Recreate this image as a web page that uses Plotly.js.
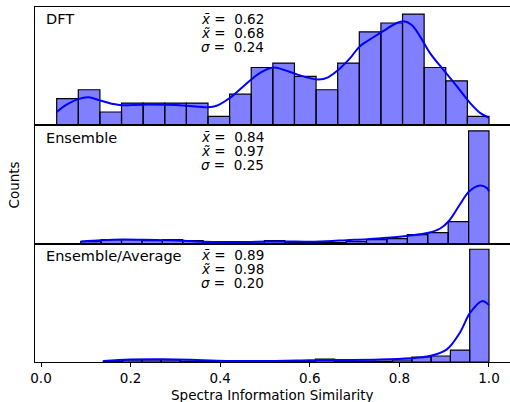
<!DOCTYPE html>
<html><head><meta charset="utf-8">
<script src="https://cdn.plot.ly/plotly-3.0.1.min.js"></script>
<style>html,body{margin:0;padding:0;background:#fff}</style>
</head><body><div id="chart" style="width:510px;height:402px"></div>
<script>
// ---- data ----
const panelNames = ["DFT", "Ensemble", "Ensemble/Average"];
const statMean = ["0.62", "0.84", "0.89"];
const statMedian = ["0.68", "0.97", "0.98"];
const statStd = ["0.24", "0.25", "0.20"];

// histogram bin ranges (data min / max) and counts, 20 bins each
const dftRange = [0.035, 1.0];
const dftCounts = [6, 8, 3, 5, 5, 5, 5, 2, 7, 13, 14, 11, 8, 14, 21, 23, 25, 13, 10, 2];
const ensRange = [0.0886, 1.0];
const ensCounts = [2, 4, 4, 3, 4, 3, 2, 2, 2, 3, 1, 1, 1, 2, 4, 5, 9, 11, 22, 113];
const avgRange = [0.139, 1.0];
const avgCounts = [1, 2, 2, 2, 1, 1, 0, 1, 0, 1, 1, 3, 1, 1, 1, 2, 5, 6, 12, 113];

// KDE curves (x, counts)
const dftKdeX = [0.035,0.057,0.083,0.106,0.132,0.161,0.18,0.228,0.277,0.325,0.373,0.392,0.422,0.452,0.489,0.519,0.541,0.567,0.593,0.619,0.641,0.664,0.690,0.712,0.742,0.772,0.794,0.809,0.827,0.846,0.868,0.898,0.928,0.958,0.980,1.0];
const dftKdeY = [3.0,4.65,5.9,6.3,5.6,4.8,4.5,4.65,4.6,4.4,4.05,4.4,6.2,8.8,11.8,13.0,12.5,11.6,10.8,10.3,10.8,12.5,15.1,17.8,19.8,21.7,23.0,23.4,22.6,20.0,16.3,12.5,8.8,5.0,2.8,1.7];
const ensKdeX = [0.0886,0.135,0.184,0.228,0.273,0.318,0.364,0.411,0.459,0.504,0.548,0.593,0.638,0.682,0.728,0.774,0.820,0.865,0.891,0.910,0.935,0.956,0.980,0.995,1.0];
const ensKdeY = [2.2,3.5,4.2,3.9,3.5,2.9,1.9,1.5,1.5,2.2,2.2,1.9,2.5,3.5,4.5,5.9,7.9,10.9,15.2,22.5,39.2,52.5,58.2,55.9,52.5];
const avgKdeX = [0.139,0.199,0.273,0.348,0.422,0.496,0.571,0.630,0.690,0.757,0.824,0.868,0.906,0.935,0.958,0.984,1.0];
const avgKdeY = [1.0,2.4,2.7,2.0,1.0,1.0,1.4,2.0,2.0,2.4,3.7,6.0,12.7,29.4,49.4,61.0,57.0];

const yMax = [26.6, 118.6, 118.6];
const xTicks = [0, 0.2, 0.4, 0.6, 0.8, 1.0];
const xTickText = ["0.0", "0.2", "0.4", "0.6", "0.8", "1.0"];

// ---- build ----
const W = 510, H = 402, ML = 35, MR = 0, MT = 7, MB = 40;
const PW = W - ML - MR, PH = H - MT - MB;
const px2x = p => (p - ML) / PW;
const py2y = p => (H - MB - p) / PH;

function binCentres(range, n) {
  const w = (range[1] - range[0]) / n;
  return {w: w, c: Array.from({length: n}, (_, i) => range[0] + w * (i + 0.5))};
}

const hists = [[dftRange, dftCounts], [ensRange, ensCounts], [avgRange, avgCounts]];
const kdes = [[dftKdeX, dftKdeY], [ensKdeX, ensKdeY], [avgKdeX, avgKdeY]];
const traces = [];
hists.forEach((h, i) => {
  const b = binCentres(h[0], h[1].length);
  const ax = i === 0 ? '' : String(i + 1);
  traces.push({type: 'bar', x: b.c, y: h[1], width: b.w, xaxis: 'x' + ax, yaxis: 'y' + ax,
    marker: {color: 'rgba(0,0,255,0.5)', line: {color: 'black', width: 1.2}}, hoverinfo: 'skip'});
  traces.push({type: 'scatter', mode: 'lines', x: kdes[i][0], y: kdes[i][1], xaxis: 'x' + ax, yaxis: 'y' + ax,
    line: {color: 'blue', width: 2, shape: 'spline', smoothing: 1}, hoverinfo: 'skip'});
});

const xr = [-0.0134, 1.0469];
function xa(anchor, bottom) {
  const o = {anchor: anchor, range: xr, showline: true, mirror: true, linecolor: 'black', linewidth: 1,
    showgrid: false, zeroline: false, ticks: '', showticklabels: false, fixedrange: true};
  if (bottom) {
    Object.assign(o, {ticks: 'outside', ticklen: 3.5, tickwidth: 1, tickcolor: 'black',
      tickvals: xTicks, ticktext: xTickText, showticklabels: true,
      tickfont: {family: 'DejaVu Sans', size: 13.5, color: 'black'}});
  }
  return o;
}
function ya(anchor, dom, mx) {
  return {anchor: anchor, domain: dom, range: [0, mx], showline: true, linecolor: 'black', linewidth: 1,
    showgrid: false, zeroline: false, ticks: '', showticklabels: false, fixedrange: true};
}

const annotations = [];
const fnt = {family: 'DejaVu Sans', size: 13.5, color: 'black'};
const lblFnt = {family: 'DejaVu Sans', size: 14.5, color: 'black'};
const nb = '\u00a0';
for (let i = 0; i < 3; i++) {
  const top = MT + i * PH / 3;
  annotations.push({xref: 'paper', yref: 'paper', x: px2x(43.5), y: py2y(top + 12.3), xanchor: 'left', yanchor: 'middle',
    text: panelNames[i], showarrow: false, font: lblFnt});
  const lines = ['<i>x\u0304</i>' + nb + '=' + nb + nb + statMean[i],
                 '<i>x\u0303</i>' + nb + '=' + nb + nb + statMedian[i],
                 '<i>\u03c3</i>' + nb + '=' + nb + nb + statStd[i]];
  [11.7, 25.8, 39.8].forEach((off, k) => {
    annotations.push({xref: 'paper', yref: 'paper', x: px2x(200), y: py2y(top + off), xanchor: 'left', yanchor: 'middle',
      text: lines[k], showarrow: false, font: fnt, borderpad: 0});
  });
}
annotations.push({xref: 'paper', yref: 'paper', x: px2x(272.5), y: py2y(395), xanchor: 'center', yanchor: 'middle',
  text: 'Spectra Information Similarity', showarrow: false, font: fnt});
annotations.push({xref: 'paper', yref: 'paper', x: px2x(13.5), y: py2y(185), xanchor: 'center', yanchor: 'middle',
  text: 'Counts', textangle: -90, showarrow: false, font: fnt});

const layout = {
  width: W, height: H, margin: {l: ML, r: MR, t: MT, b: MB, pad: 0},
  paper_bgcolor: 'white', plot_bgcolor: 'white', showlegend: false, bargap: 0,
  font: fnt,
  xaxis: xa('y', false), yaxis: ya('x', [2/3, 1], yMax[0]),
  xaxis2: Object.assign(xa('y2', false), {matches: 'x'}), yaxis2: ya('x2', [1/3, 2/3], yMax[1]),
  xaxis3: Object.assign(xa('y3', true), {matches: 'x'}), yaxis3: ya('x3', [0, 1/3], yMax[2]),
  annotations: annotations
};
Plotly.newPlot('chart', traces, layout, {staticPlot: true, displayModeBar: false});
</script></body></html>
